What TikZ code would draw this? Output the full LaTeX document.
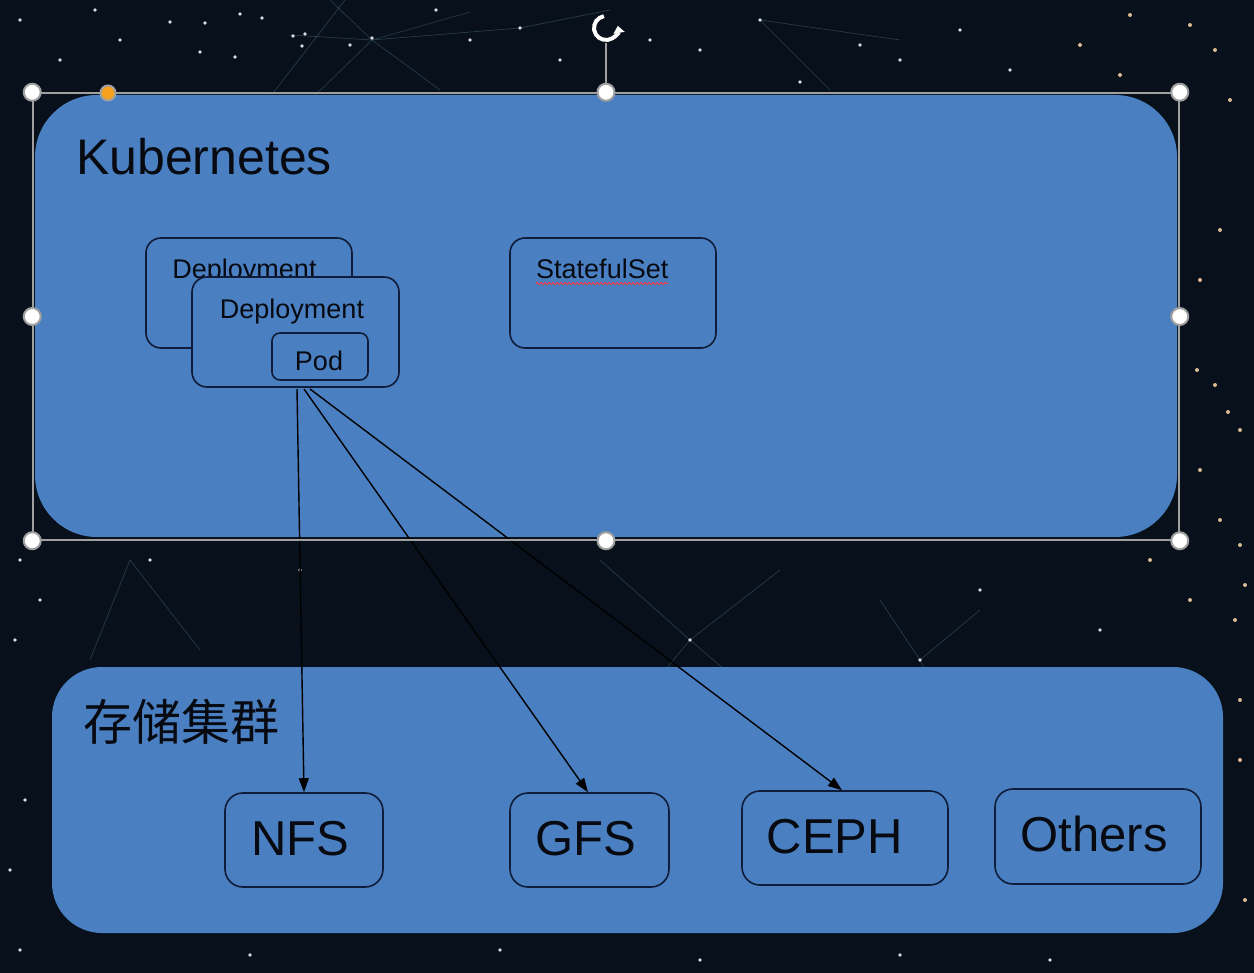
\documentclass[tikz,border=0pt]{standalone}
\usepackage{fontspec}
\setmainfont{Liberation Sans}
\newfontfamily\cjkfont{Noto Sans CJK SC}
\usetikzlibrary{arrows.meta,decorations.pathmorphing}
\definecolor{bg}{RGB}{8,17,27}
\definecolor{boxblue}{RGB}{74,128,193}
\definecolor{edgecol}{RGB}{15,28,58}
\definecolor{txt}{RGB}{8,10,18}
\definecolor{handlegray}{RGB}{160,160,160}
\definecolor{orangeh}{RGB}{245,160,30}
\definecolor{netline}{RGB}{120,170,190}
\begin{document}
\begin{tikzpicture}[x=1pt,y=-1pt,
  bigbox/.style={fill=boxblue, draw=none, inner sep=0pt},
  smallbox/.style={fill=boxblue, draw=edgecol, line width=1.6pt, rounded corners=15pt, inner sep=0pt},
  lbl/.style={text=txt, inner sep=0pt, anchor=base},
  midfont/.style={font=\fontsize{27}{32}\selectfont},
  bigfont/.style={font=\fontsize{49}{58}\selectfont},
  conn/.style={draw=black, line width=1.4pt, -{Triangle[length=14pt,width=10pt]}},
  selframe/.style={draw=handlegray, line width=1.5pt, inner sep=0pt},
  handle/.style={circle, fill=white, draw=handlegray, line width=2pt, minimum size=17pt, inner sep=0pt},
  star/.style={fill=white, opacity=0.85},
  warmstar/.style={fill={rgb,255:red,255;green,215;blue,170}, opacity=0.85},
  net/.style={draw=netline, line width=0.6pt, opacity=0.3}
]
\useasboundingbox (0,0) rectangle (1254,973);
\fill[bg] (0,0) rectangle (1254,973);

% faint network lines of the background
\draw[net] (290,35) -- (372,40) -- (470,12);
\draw[net] (372,40) -- (300,110) (372,40) -- (440,90) (372,40) -- (330,0);
\draw[net] (372,40) -- (520,28) -- (610,10);
\draw[net] (260,110) -- (345,0);
\draw[net] (690,640) -- (600,560) (690,640) -- (780,570) (690,640) -- (760,700) (690,640) -- (640,700);
\draw[net] (920,660) -- (880,600) (920,660) -- (980,610) (920,660) -- (940,700);
\draw[net] (130,560) -- (90,660) (130,560) -- (200,650);
\draw[net] (760,20) -- (830,90) (760,20) -- (900,40);
% stars
\foreach \p in {(170,22),(205,23),(240,14),(262,18),(293,36),(235,57),(200,52),(305,34),(302,46),
  (350,45),(372,38),(436,10),(470,40),(520,28),(560,60),(650,40),(700,50),(760,20),(800,82),(860,45),
  (900,60),(960,30),(1010,70),(120,40),(60,60),(20,20),(95,10),
  (150,560),(300,570),(690,640),(920,660),(980,590),(1100,630),(500,950),(700,960),(900,955),
  (20,560),(15,640),(40,600),(25,800),(10,870),(20,950),(250,955),(1050,960)}
  \fill[star] \p circle (1.8pt);
\foreach \p in {(1120,75),(1190,25),(1215,50),(1230,100),(1220,230),(1200,280),(1197,370),(1215,385),
  (1228,412),(1240,430),(1200,470),(1220,520),(1240,545),(1245,585),(1235,620),(1190,600),
  (1150,560),(1240,700),(1240,760),(1245,900),(1130,15),(1080,45)}
  \fill[warmstar] \p circle (2pt);

% big containers
\node[bigbox, rounded corners=62pt, minimum width=1142pt, minimum height=442pt] (kube) at (606,316) {};
\node[bigbox, rounded corners=50pt, minimum width=1171pt, minimum height=266pt] (store) at (637.5,800) {};

\node[lbl, anchor=base west, font=\fontsize{50}{60}\selectfont] (kubet) at (76,175) {Kubernetes};
\node[lbl, anchor=base west, font=\fontsize{49}{58}\selectfont\cjkfont] (storet) at (83,740) {存储集群};

% deployments and pod
\node[smallbox, minimum width=206pt, minimum height=110pt] (dep1) at (249,293) {};
\node[lbl, midfont] (dep1t) at (244.5,278.5) {Deployment};
\node[smallbox, minimum width=207pt, minimum height=110pt] (dep2) at (295.5,332) {};
\node[lbl, midfont] (dep2t) at (292,318.5) {Deployment};
\node[smallbox, rounded corners=8pt, minimum width=96pt, minimum height=47pt] (pod) at (320,356.5) {};
\node[lbl, midfont] (podt) at (319,370.5) {Pod};

% statefulset
\node[smallbox, minimum width=206pt, minimum height=110pt] (sts) at (613,293) {};
\node[lbl, midfont, anchor=base west] (stst) at (536,279) {StatefulSet};
\draw[red!80!white, line width=0.8pt, decorate, decoration={snake, amplitude=1.2pt, segment length=4pt}]
  ([yshift=-4.5pt]stst.base west) -- ([yshift=-4.5pt]stst.base east);

% storage back-ends
\node[smallbox, rounded corners=18pt, minimum width=158pt, minimum height=94pt] (nfs) at (304,840) {};
\node[lbl, bigfont] (nfst) at (300,855) {NFS};
\node[smallbox, rounded corners=18pt, minimum width=159pt, minimum height=94pt] (gfs) at (589.5,840) {};
\node[lbl, bigfont] (gfst) at (586,855) {GFS};
\node[smallbox, rounded corners=18pt, minimum width=206pt, minimum height=94pt] (ceph) at (845,838) {};
\node[lbl, bigfont] (cepht) at (835,853) {CEPH};
\node[smallbox, rounded corners=18pt, minimum width=206pt, minimum height=95pt] (others) at (1098,836.5) {};
\node[lbl, bigfont] (otherst) at (1094,851) {Others};

% connectors
\coordinate (s1) at (297,389);
\coordinate (s2) at (304,389);
\coordinate (s3) at (310,389);
\draw[conn] (s1) -- (nfs.north);
\draw[conn] (s2) -- ([xshift=-1.5pt]gfs.north);
\draw[conn] (s3) -- ([xshift=-3pt]ceph.north);

% selection frame and handles
\node[selframe, minimum width=1146pt, minimum height=447pt] (sel) at (606,316.5) {};
\node[inner sep=0pt, minimum size=30pt] (rot) at (606,28) {};
\draw[handlegray, line width=1.5pt] (sel.north) -- (rot.south);
\draw[white, line width=4pt, -{Triangle[length=7pt,width=11pt]}]
  ([shift={(606,28)}]260:12) arc[start angle=260, end angle=-10, radius=12];
\foreach \a [count=\i] in {north west,north,north east,west,east,south west,south,south east}
  \node[handle] (h\i) at (sel.\a) {};
\node[handle, fill=orangeh, minimum size=15pt] (hadj) at (108,93) {};
\end{tikzpicture}
\end{document}
